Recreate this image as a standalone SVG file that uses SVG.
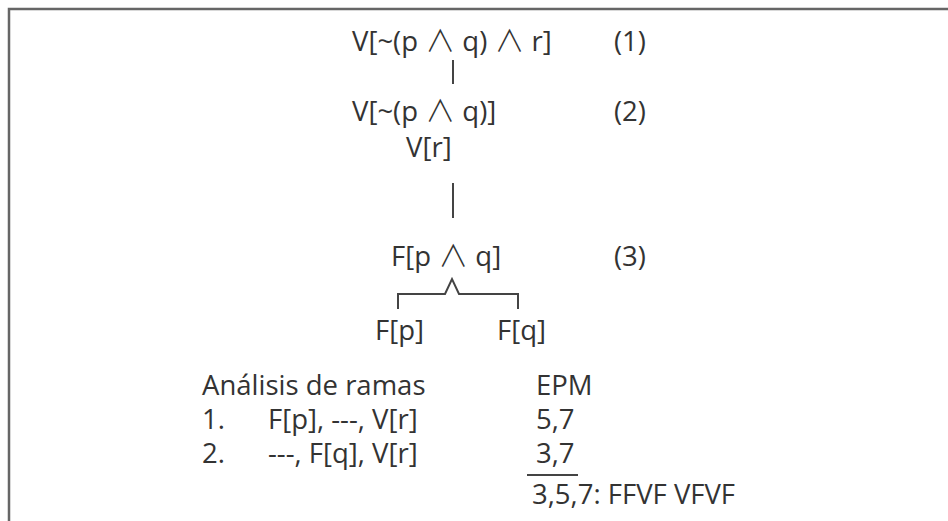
<svg xmlns="http://www.w3.org/2000/svg" width="948" height="521" viewBox="0 0 948 521">
<style>
text{font-family:"Open Sans","DejaVu Sans",sans-serif;font-size:27.5px;fill:#333;}
.w{font-family:"Noto Sans CJK SC","DejaVu Sans",sans-serif;font-weight:300;font-size:30px;}
.ln{stroke:#444;stroke-width:2;fill:none;}
.frame{stroke:#666;stroke-width:2.5;fill:none;}
</style>
<rect width="948" height="521" fill="#fff"/>
<path class="frame" d="M9,521 V9 H948"/>
<g id="n1"><text x="352" y="51">V[~(p <tspan class="w">∧</tspan> q) <tspan class="w">∧</tspan> r]</text><text x="614" y="51">(1)</text></g>
<g id="n2"><text x="352" y="121">V[~(p <tspan class="w">∧</tspan> q)]</text><text x="614" y="121">(2)</text><text x="406" y="157">V[r]</text></g>
<g id="n3"><text x="391" y="266">F[p <tspan class="w">∧</tspan> q]</text><text x="614" y="266">(3)</text></g>
<g id="n4"><text x="375" y="340">F[p]</text></g>
<g id="n5"><text x="497" y="340">F[q]</text></g>
<g id="connectors">
<line class="ln" x1="453" y1="60" x2="453" y2="84"/>
<line class="ln" x1="453" y1="183" x2="453" y2="218"/>
<path class="ln" d="M398,309 V294 H445 L452,279 L459,294 H518 V309"/>
</g>
<g id="analysis">
<text x="202" y="395">Análisis de ramas</text>
<text x="536" y="395">EPM</text>
<text x="202" y="429">1.</text><text x="268" y="429">F[p], ---, V[r]</text>
<text x="536" y="429">5,7</text>
<text x="202" y="463">2.</text><text x="268" y="463">---, F[q], V[r]</text>
<text x="536" y="463">3,7</text>
<line class="ln" x1="527" y1="475" x2="578" y2="475"/>
<text x="532" y="504">3,5,7: FFVF VFVF</text>
</g>
</svg>
